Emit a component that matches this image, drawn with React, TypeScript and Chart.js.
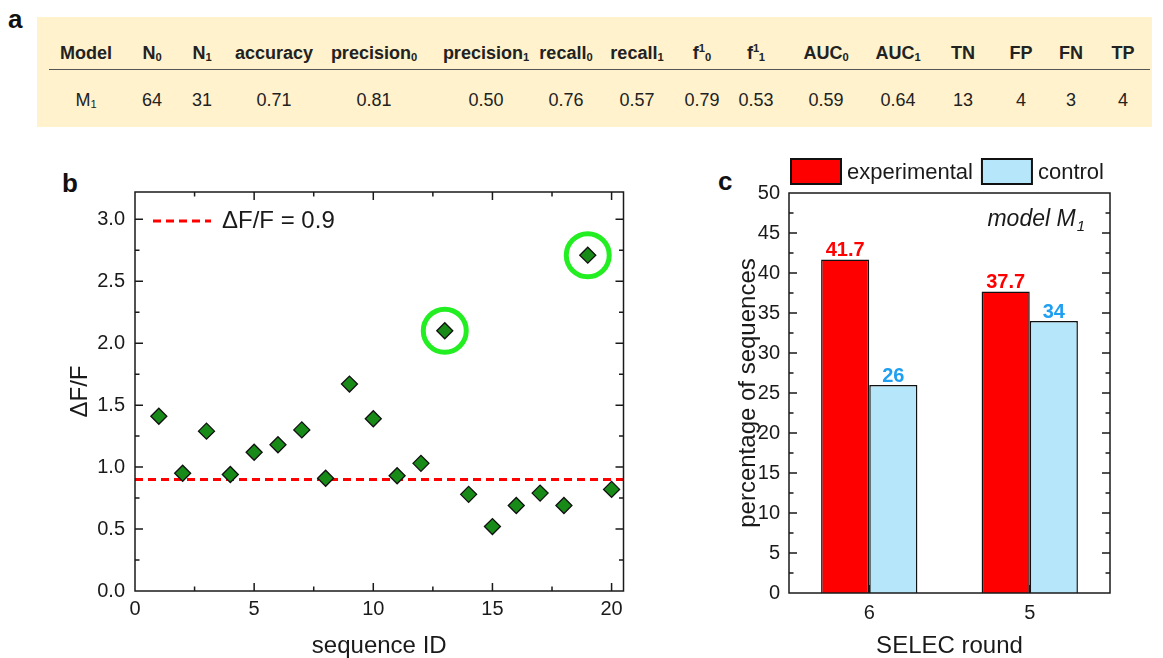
import React, { useEffect, useRef } from "react";
import { Chart, registerables } from "chart.js";

Chart.register(...registerables);

const FONT = "'Liberation Sans', Arial, Helvetica, sans-serif";
const TEXT = "#1a1a1a";
const AXIS = "#1a1a1a";

// ---------- Panel a: metrics table ----------
// notation: "base^sup_sub"
const TABLE_HEADERS = [
  "Model", "N_0", "N_1", "accuracy", "precision_0", "precision_1", "recall_0", "recall_1",
  "f^1_0", "f^1_1", "AUC_0", "AUC_1", "TN", "FP", "FN", "TP",
];
const TABLE_VALUES = [
  "M_1", "64", "31", "0.71", "0.81", "0.50", "0.76", "0.57",
  "0.79", "0.53", "0.59", "0.64", "13", "4", "3", "4",
];
// layout (column centres in px)
const TABLE_COL_X = [86, 152, 202, 274, 374, 486, 566, 637, 702, 756, 826, 898, 963, 1021, 1071, 1123];

// ---------- Panel b: scatter ----------
const SEQUENCE_IDS = [1, 2, 3, 4, 5, 6, 7, 8, 9, 10, 11, 12, 13, 14, 15, 16, 17, 18, 19, 20];
const DELTA_F = [1.41, 0.95, 1.29, 0.94, 1.12, 1.18, 1.30, 0.91, 1.67, 1.39, 0.93, 1.03, 2.10, 0.78, 0.52, 0.69, 0.79, 0.69, 2.71, 0.82];
const HIGHLIGHTED_IDS = [13, 19];
const THRESHOLD = 0.9;
const X_RANGE_B = [0, 20.5];
const Y_RANGE_B = [0, 3.22];

// ---------- Panel c: bars ----------
const ROUNDS = ["6", "5"];
const EXPERIMENTAL = [41.7, 37.7];
const CONTROL = [26, 34];
const Y_RANGE_C = [0, 50];

function Rich({ text }: { text: string }) {
  const m = text.match(/^([^_^]*)(?:\^([^_]*))?(?:_(.*))?$/);
  const base = m ? m[1] : text;
  const sup = m ? m[2] : undefined;
  const sub = m ? m[3] : undefined;
  return (
    <span>
      {base}
      {sup ? (
        <span style={{ fontSize: "0.62em", position: "relative", top: "-0.6em" }}>{sup}</span>
      ) : null}
      {sub ? (
        <span style={{ fontSize: "0.62em", position: "relative", top: "0.15em" }}>{sub}</span>
      ) : null}
    </span>
  );
}

function makeFramePlugin(cfg: { xStep?: number; yStep: number; category: boolean; topTicks: boolean }) {
  return {
    id: "frameTicks",
    afterDatasetsDraw(chart: any) {
      const { ctx, chartArea: a } = chart;
      const xs = chart.scales.x;
      const ys = chart.scales.y;
      const MAJ = 8;
      const MIN = 4.5;
      ctx.save();
      ctx.strokeStyle = AXIS;
      ctx.lineWidth = 1.5;
      ctx.beginPath();
      const eps = 1e-9;
      // y ticks (left & right)
      const yMaj = ys.ticks.map((t: any) => t.value);
      const yTicks: [number, number][] = [];
      yMaj.forEach((v: number) => {
        yTicks.push([v, MAJ]);
        const mv = v + cfg.yStep / 2;
        if (mv < ys.max - eps) yTicks.push([mv, MIN]);
      });
      yTicks.forEach(([v, len]) => {
        if (v <= ys.min + eps || v >= ys.max - eps) return;
        const py = ys.getPixelForValue(v);
        ctx.moveTo(a.left, py);
        ctx.lineTo(a.left + len, py);
        ctx.moveTo(a.right, py);
        ctx.lineTo(a.right - len, py);
      });
      // x ticks
      if (cfg.category) {
        xs.ticks.forEach((_t: any, i: number) => {
          const px = xs.getPixelForTick(i);
          ctx.moveTo(px, a.bottom);
          ctx.lineTo(px, a.bottom - MAJ);
        });
      } else {
        const step = cfg.xStep || 1;
        const xMaj = xs.ticks.map((t: any) => t.value);
        const xTicks: [number, number][] = [];
        xMaj.forEach((v: number) => {
          xTicks.push([v, MAJ]);
          const mv = v + step / 2;
          if (mv < xs.max - eps) xTicks.push([mv, MIN]);
        });
        xTicks.forEach(([v, len]) => {
          if (v <= xs.min + eps || v >= xs.max - eps) return;
          const px = xs.getPixelForValue(v);
          ctx.moveTo(px, a.bottom);
          ctx.lineTo(px, a.bottom - len);
          if (cfg.topTicks) {
            ctx.moveTo(px, a.top);
            ctx.lineTo(px, a.top + len);
          }
        });
      }
      ctx.stroke();
      ctx.strokeRect(a.left, a.top, a.right - a.left, a.bottom - a.top);
      ctx.restore();
    },
  };
}

const legendBPlugin = {
  id: "legendB",
  afterDraw(chart: any) {
    const { ctx, chartArea: a } = chart;
    const ds = chart.data.datasets[0];
    const y = a.top + 29;
    const x0 = a.left + 18;
    ctx.save();
    ctx.strokeStyle = ds.borderColor;
    ctx.lineWidth = ds.borderWidth;
    ctx.setLineDash(ds.borderDash);
    ctx.beginPath();
    ctx.moveTo(x0, y);
    ctx.lineTo(x0 + 58, y);
    ctx.stroke();
    ctx.setLineDash([]);
    ctx.fillStyle = TEXT;
    ctx.font = `24px ${FONT}`;
    ctx.textAlign = "left";
    ctx.textBaseline = "middle";
    ctx.fillText(ds.label, x0 + 69, y);
    ctx.restore();
  },
};

const LABEL_COLORS_C = ["#FF0000", "#1E9FF2"];

const barLabelPlugin = {
  id: "barLabels",
  afterDatasetsDraw(chart: any) {
    const { ctx } = chart;
    ctx.save();
    ctx.font = `bold 20px ${FONT}`;
    ctx.textAlign = "center";
    ctx.textBaseline = "alphabetic";
    chart.data.datasets.forEach((ds: any, i: number) => {
      const meta = chart.getDatasetMeta(i);
      meta.data.forEach((bar: any, j: number) => {
        ctx.fillStyle = LABEL_COLORS_C[i];
        ctx.fillText(String(ds.data[j]), bar.x, bar.y - 3);
      });
    });
    ctx.restore();
  },
};

const legendCPlugin = {
  id: "legendC",
  afterDraw(chart: any) {
    const { ctx, chartArea: a } = chart;
    ctx.save();
    ctx.font = `22px ${FONT}`;
    ctx.textBaseline = "middle";
    ctx.textAlign = "left";
    let x = a.left + 2;
    const top = a.top - 34;
    const w = 50;
    const h = 25;
    chart.data.datasets.forEach((ds: any) => {
      ctx.fillStyle = ds.backgroundColor;
      ctx.fillRect(x, top, w, h);
      ctx.strokeStyle = "#111";
      ctx.lineWidth = 2;
      ctx.strokeRect(x, top, w, h);
      ctx.fillStyle = TEXT;
      const tx = x + w + 6;
      ctx.fillText(ds.label, tx, top + h / 2 + 1);
      x = tx + ctx.measureText(ds.label).width + 9;
    });
    // model annotation
    const right = a.right - 25;
    const cy = a.top + 27;
    ctx.font = `italic 15px ${FONT}`;
    const subW = ctx.measureText("1").width;
    ctx.fillText("1", right - subW, cy + 7);
    ctx.font = `italic 23px ${FONT}`;
    const mw = ctx.measureText("model M").width;
    ctx.fillText("model M", right - subW - 1 - mw, cy);
    ctx.restore();
  },
};

export default function App() {
  const refB = useRef<HTMLCanvasElement>(null);
  const refC = useRef<HTMLCanvasElement>(null);

  useEffect(() => {
    const tickFont = { family: FONT, size: 20 };
    const titleFont = { family: FONT, size: 24, lineHeight: 1 };

    const chartB = new Chart(refB.current as HTMLCanvasElement, {
      type: "scatter",
      data: {
        datasets: [
          {
            type: "line",
            label: `ΔF/F = ${THRESHOLD}`,
            data: [
              { x: X_RANGE_B[0], y: THRESHOLD },
              { x: X_RANGE_B[1], y: THRESHOLD },
            ],
            borderColor: "#FF0000",
            borderWidth: 3,
            borderDash: [8, 5],
            pointRadius: 0,
            fill: false,
            order: 3,
          } as any,
          {
            label: "selected",
            data: HIGHLIGHTED_IDS.map((id) => ({ x: id, y: DELTA_F[SEQUENCE_IDS.indexOf(id)] })),
            pointStyle: "circle",
            pointRadius: 21.5,
            pointBorderWidth: 5,
            pointBorderColor: "#22EE22",
            pointBackgroundColor: "rgba(0,0,0,0)",
            order: 2,
          } as any,
          {
            label: "ΔF/F",
            data: SEQUENCE_IDS.map((id, i) => ({ x: id, y: DELTA_F[i] })),
            pointStyle: "rectRot",
            pointRadius: 8,
            pointBorderWidth: 1.3,
            pointBorderColor: "#111111",
            pointBackgroundColor: "#178A17",
            order: 1,
          } as any,
        ],
      },
      options: {
        animation: false,
        responsive: false,
        events: [],
        layout: { padding: { top: 52, right: 17, left: 0, bottom: 0 } },
        plugins: { legend: { display: false }, tooltip: { enabled: false } },
        scales: {
          x: {
            type: "linear",
            min: X_RANGE_B[0],
            max: X_RANGE_B[1],
            afterFit: (s: any) => {
              s.height = 67;
            },
            grid: { display: false, drawTicks: false },
            border: { display: false },
            ticks: {
              stepSize: 5,
              includeBounds: false,
              font: tickFont,
              color: TEXT,
              padding: 6,
              maxRotation: 0,
            },
            title: {
              display: true,
              text: "sequence ID",
              font: titleFont,
              color: TEXT,
              padding: { top: 0, bottom: 0 },
            },
          },
          y: {
            type: "linear",
            min: Y_RANGE_B[0],
            max: Y_RANGE_B[1],
            afterFit: (s: any) => {
              s.width = 135;
            },
            grid: { display: false, drawTicks: false },
            border: { display: false },
            ticks: {
              stepSize: 0.5,
              includeBounds: false,
              font: tickFont,
              color: TEXT,
              padding: 10,
              callback: (v: any) => Number(v).toFixed(1),
            },
            title: {
              display: true,
              text: "ΔF/F",
              font: titleFont,
              color: TEXT,
              padding: { top: 68, bottom: 0 },
            },
          },
        },
      } as any,
      plugins: [makeFramePlugin({ xStep: 5, yStep: 0.5, category: false, topTicks: true }), legendBPlugin],
    });

    const chartC = new Chart(refC.current as HTMLCanvasElement, {
      type: "bar",
      data: {
        labels: ROUNDS,
        datasets: [
          {
            label: "experimental",
            data: EXPERIMENTAL,
            backgroundColor: "#FF0000",
            borderColor: "#111111",
            borderWidth: 1.5,
            barPercentage: 1,
            categoryPercentage: 0.6,
          },
          {
            label: "control",
            data: CONTROL,
            backgroundColor: "#B5E6FA",
            borderColor: "#111111",
            borderWidth: 1.5,
            barPercentage: 1,
            categoryPercentage: 0.6,
          },
        ],
      },
      options: {
        animation: false,
        responsive: false,
        events: [],
        layout: { padding: { top: 53, right: 53, left: 0, bottom: 0 } },
        plugins: { legend: { display: false }, tooltip: { enabled: false } },
        scales: {
          x: {
            type: "category",
            offset: true,
            afterFit: (s: any) => {
              s.height = 65;
            },
            grid: { display: false, drawTicks: false },
            border: { display: false },
            ticks: { font: tickFont, color: TEXT, padding: 8, maxRotation: 0 },
            title: {
              display: true,
              text: "SELEC round",
              font: titleFont,
              color: TEXT,
              padding: { top: 0, bottom: 0 },
            },
          },
          y: {
            type: "linear",
            min: Y_RANGE_C[0],
            max: Y_RANGE_C[1],
            afterFit: (s: any) => {
              s.width = 89;
            },
            grid: { display: false, drawTicks: false },
            border: { display: false },
            ticks: { stepSize: 5, font: tickFont, color: TEXT, padding: 9 },
            title: {
              display: true,
              text: "percentage of sequences",
              font: titleFont,
              color: TEXT,
              padding: { top: 36, bottom: 0 },
            },
          },
        },
      } as any,
      plugins: [makeFramePlugin({ yStep: 5, category: true, topTicks: false }), barLabelPlugin, legendCPlugin],
    });

    return () => {
      chartB.destroy();
      chartC.destroy();
    };
  }, []);

  const panelLabel = (t: string, left: number, top: number) => (
    <div
      style={{
        position: "absolute",
        left,
        top,
        font: `bold 26px ${FONT}`,
        lineHeight: 1,
        color: "#111",
      }}
    >
      {t}
    </div>
  );

  const cell = (t: string, x: number, y: number, bold: boolean, key: string) => (
    <div
      key={key}
      style={{
        position: "absolute",
        left: x,
        top: y,
        transform: "translate(-50%, -50%)",
        whiteSpace: "nowrap",
        font: `${bold ? "bold " : ""}18px ${FONT}`,
        lineHeight: 1,
        color: "#222",
      }}
    >
      <Rich text={t} />
    </div>
  );

  return (
    <div
      style={{
        position: "absolute",
        left: 0,
        top: 0,
        width: 1163,
        height: 658,
        background: "#ffffff",
        overflow: "hidden",
      }}
    >
      {panelLabel("a", 8, 6)}
      <div
        style={{
          position: "absolute",
          left: 37,
          top: 17,
          width: 1115,
          height: 110,
          background: "#FFF2CC",
        }}
      />
      <div
        style={{
          position: "absolute",
          left: 49,
          top: 69,
          width: 1101,
          height: 0,
          borderTop: "1.5px solid #555",
        }}
      />
      {TABLE_HEADERS.map((h, i) => cell(h, TABLE_COL_X[i], 53, true, "h" + i))}
      {TABLE_VALUES.map((v, i) => cell(v, TABLE_COL_X[i], 100, false, "v" + i))}

      {panelLabel("b", 62, 170)}
      <canvas
        ref={refB}
        width={650}
        height={518}
        style={{ position: "absolute", left: 0, top: 140, width: 650, height: 518 }}
      />

      {panelLabel("c", 718, 168)}
      <canvas
        ref={refC}
        width={463}
        height={518}
        style={{ position: "absolute", left: 700, top: 140, width: 463, height: 518 }}
      />
    </div>
  );
}
